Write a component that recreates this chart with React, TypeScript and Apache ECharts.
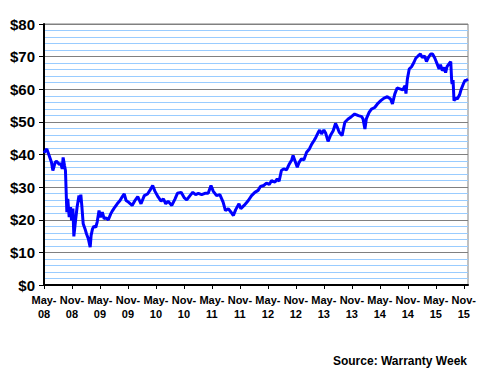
import React, { useEffect, useRef } from "react";
import * as echarts from "echarts";

// months since May 2008
const months = [
  0, 0.6, 1.1, 1.6, 1.9, 2.4, 2.7, 3.3, 3.6, 3.9, 4.1, 4.4, 4.6, 4.9, 5.1, 5.4, 5.7, 5.9, 6.2, 6.4,
  6.8, 7.1, 7.5, 7.7, 7.9, 8.1, 8.4, 8.8, 9.1, 9.5, 9.9, 10.1, 10.4, 10.7, 11.1, 11.4, 11.8, 12.1, 12.5, 12.9,
  13.3, 13.8, 14.3, 14.7, 15.2, 15.7, 16.3, 16.8, 17.2, 17.6, 18.1, 18.9, 19.5, 20.1, 20.8, 21.5, 22.2, 22.7, 23.3, 23.8,
  24.5, 25.1, 25.6, 26.1, 26.6, 27.4, 28.1, 28.6, 29.4, 30.1, 30.6, 31.3, 31.9, 32.5, 33.1, 33.8, 34.5, 35.2, 35.8, 36.3,
  37.0, 37.7, 38.4, 38.9, 39.5, 40.1, 40.6, 41.1, 41.8, 42.2, 42.9, 43.4, 43.8, 44.5, 45.2, 45.9, 46.4, 47.1, 47.7, 48.3,
  48.8, 49.5, 50.0, 50.4, 50.9, 51.4, 52.0, 52.6, 53.1, 53.4, 53.8, 54.3, 54.7, 55.2, 55.7, 56.3, 56.9, 57.4, 57.9, 58.3,
  58.8, 59.1, 59.5, 60.0, 60.4, 60.9, 61.4, 62.0, 62.5, 62.9, 63.3, 63.9, 64.5, 65.2, 65.9, 66.6, 67.4, 68.1, 68.4, 68.8,
  69.1, 69.7, 70.2, 70.9, 71.6, 72.2, 72.9, 73.6, 74.3, 74.7, 75.2, 75.7, 76.3, 76.9, 77.4, 77.6, 77.9, 78.3, 78.8, 79.3,
  79.7, 80.2, 80.7, 81.1, 81.6, 82.0, 82.4, 82.9, 83.3, 83.8, 84.3, 84.7, 85.0, 85.4, 85.8, 86.1, 86.4, 86.9, 87.2, 87.4,
  87.5, 87.7, 87.9, 88.3, 88.6, 89.1, 89.4, 89.9, 90.2, 90.6, 90.9,
];

const prices = [
  40.5, 41.7, 39.7, 37.6, 35.1, 37.6, 37.9, 36.9, 37.3, 35.6, 39.1, 36.6, 35.1, 22.3, 26.4, 20.8, 23.9, 19.8, 23.4, 14.9,
  20.3, 23.9, 27.4, 25.4, 27.7, 24.4, 18.8, 17.2, 15.7, 14.2, 11.6, 15.2, 17.2, 18.0, 17.7, 19.3, 22.8, 20.8, 22.3, 20.3,
  20.6, 20.0, 21.8, 22.8, 23.9, 24.9, 25.9, 27.1, 27.9, 25.9, 25.4, 24.4, 25.9, 27.1, 24.9, 27.4, 27.9, 29.0, 30.5, 28.7,
  26.9, 25.7, 26.4, 24.9, 25.7, 24.4, 26.4, 28.1, 28.4, 26.7, 26.1, 27.4, 28.4, 27.7, 28.1, 27.7, 28.1, 28.1, 30.5, 28.7,
  27.4, 27.7, 25.4, 22.8, 23.4, 22.3, 21.3, 23.1, 24.9, 23.4, 24.4, 25.2, 25.9, 27.4, 28.4, 29.0, 30.2, 30.5, 31.2, 30.8,
  32.0, 31.5, 32.5, 31.8, 35.1, 35.6, 35.3, 37.1, 38.3, 39.7, 38.1, 36.1, 37.6, 38.7, 38.3, 40.7, 41.7, 43.2, 44.3, 45.3,
  46.8, 47.5, 46.3, 47.5, 46.5, 44.0, 45.8, 47.3, 49.5, 48.3, 46.8, 45.8, 49.9, 50.9, 51.6, 52.4, 51.9, 51.6, 50.9, 47.8,
  50.9, 52.9, 53.9, 54.4, 55.7, 56.5, 57.3, 57.7, 57.0, 55.5, 58.5, 60.4, 60.1, 59.8, 61.1, 58.7, 63.1, 66.2, 66.9, 68.2,
  69.5, 70.2, 70.8, 69.7, 70.2, 68.5, 69.7, 70.8, 70.8, 69.5, 67.7, 66.2, 67.5, 65.7, 66.7, 65.1, 66.9, 67.9, 68.5, 62.6,
  61.6, 62.8, 56.5, 57.3, 57.0, 58.3, 59.8, 61.6, 62.6, 62.8, 63.1,
];

const tickMonths = [0, 6, 12, 18, 24, 30, 36, 42, 48, 54, 60, 66, 72, 78, 84, 90];
const tickLabels = [
  "May-\n08", "Nov-\n08", "May-\n09", "Nov-\n09", "May-\n10", "Nov-\n10", "May-\n11", "Nov-\n11",
  "May-\n12", "Nov-\n12", "May-\n13", "Nov-\n13", "May-\n14", "Nov-\n14", "May-\n15", "Nov-\n15",
];
const sourceText = "Source: Warranty Week";

const FONT = "'Liberation Sans', Arial, sans-serif";

export default function App() {
  const ref = useRef<HTMLDivElement>(null);
  useEffect(() => {
    if (!ref.current) return;
    const chart = echarts.init(ref.current, null, { renderer: "svg" });
    chart.setOption({
      animation: false,
      backgroundColor: "#ffffff",
      grid: {
        left: 44,
        right: 12,
        top: 24,
        bottom: 85,
        show: true,
        borderColor: "#808080",
        borderWidth: 1,
        backgroundColor: "transparent",
      },
      graphic: [
        {
          type: "text",
          right: 13,
          top: 355,
          style: {
            text: sourceText,
            fill: "#000",
            font: `bold 12px ${FONT}`,
          },
        },
      ],
      xAxis: {
        type: "value",
        min: 0,
        max: 90.9,
        interval: 6,
        axisLine: { show: true, lineStyle: { color: "#000", width: 2 } },
        axisTick: {
          show: true,
          length: 4,
          customValues: tickMonths,
          lineStyle: { color: "#000", width: 1 },
        },
        axisLabel: {
          customValues: tickMonths,
          formatter: (v: number) => {
            const i = tickMonths.indexOf(Math.round(v));
            return i >= 0 && Math.abs(v - Math.round(v)) < 1e-6 ? tickLabels[i] : "";
          },
          color: "#000",
          fontFamily: FONT,
          fontWeight: "bold",
          fontSize: 11,
          lineHeight: 14,
          margin: 8,
        },
        splitLine: { show: false },
      },
      yAxis: {
        type: "value",
        min: 0,
        max: 80,
        interval: 10,
        axisLine: { show: true, lineStyle: { color: "#000", width: 2 } },
        axisTick: { show: true, length: 5, lineStyle: { color: "#000", width: 1 } },
        axisLabel: {
          formatter: (v: number) => "$" + v,
          color: "#000",
          fontFamily: FONT,
          fontWeight: "bold",
          fontSize: 15,
          margin: 9,
        },
        splitLine: { show: true, lineStyle: { color: "#808080", width: 1 } },
        minorTick: { show: false, splitNumber: 5 },
        minorSplitLine: { show: true, lineStyle: { color: "#99CCFF", width: 1 } },
      },
      series: [
        {
          type: "line",
          data: months.map((m, i) => [m, prices[i]]),
          showSymbol: false,
          symbol: "none",
          lineStyle: { color: "#0000FF", width: 3 },
          z: 5,
        },
      ],
    });
    return () => chart.dispose();
  }, []);
  return (
    <div
      ref={ref}
      style={{ position: "absolute", left: 0, top: 0, width: 480, height: 370 }}
    />
  );
}
